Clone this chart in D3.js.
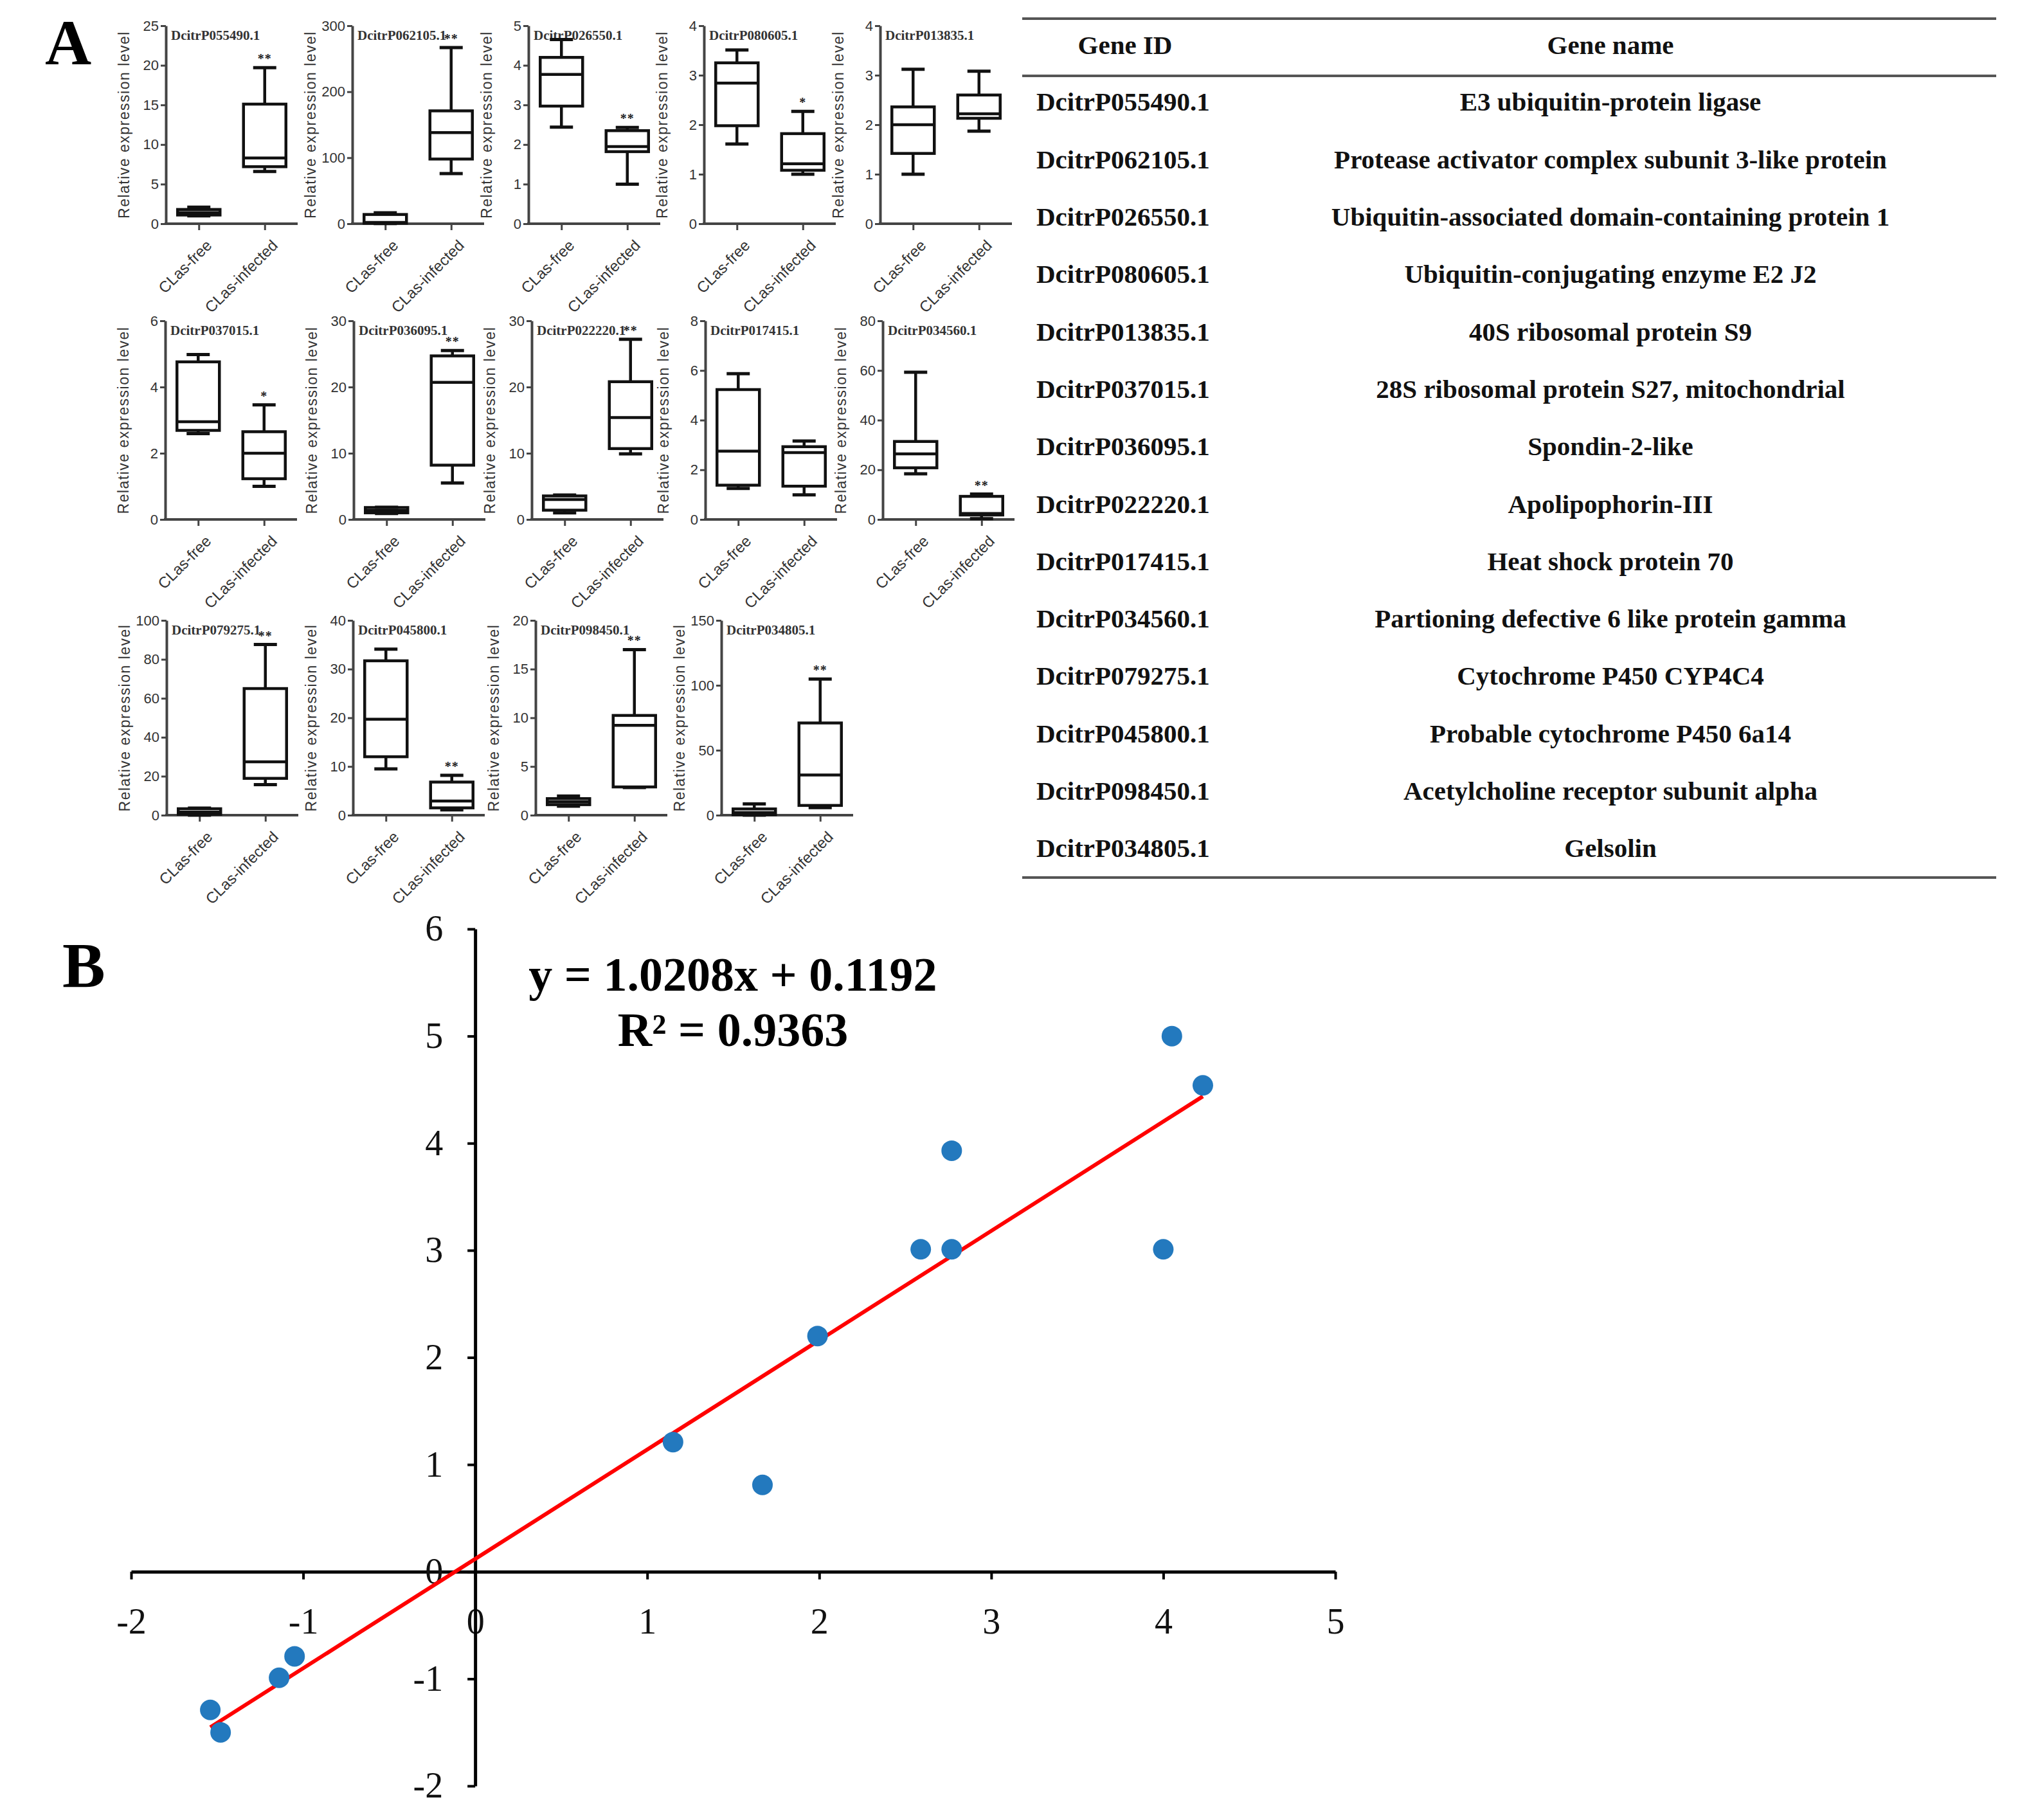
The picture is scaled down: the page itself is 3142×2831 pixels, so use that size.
<!DOCTYPE html>
<html>
<head>
<meta charset="utf-8">
<script src="https://cdn.jsdelivr.net/npm/d3@7"></script>
<style>
  html, body { margin: 0; padding: 0; background: #fff; }
  svg { display: block; }
</style>
</head>
<body>
<div id="fig"></div>
<script>
// ---- data ----
var geneIds = ['DcitrP055490.1', 'DcitrP062105.1', 'DcitrP026550.1', 'DcitrP080605.1', 'DcitrP013835.1',
  'DcitrP037015.1', 'DcitrP036095.1', 'DcitrP022220.1', 'DcitrP017415.1', 'DcitrP034560.1',
  'DcitrP079275.1', 'DcitrP045800.1', 'DcitrP098450.1', 'DcitrP034805.1'];
var geneNames = ['E3 ubiquitin-protein ligase', 'Protease activator complex subunit 3-like protein',
  'Ubiquitin-associated domain-containing protein 1', 'Ubiquitin-conjugating enzyme E2 J2',
  '40S ribosomal protein S9', '28S ribosomal protein S27, mitochondrial', 'Spondin-2-like',
  'Apolipophorin-III', 'Heat shock protein 70', 'Partioning defective 6 like protein gamma',
  'Cytochrome P450 CYP4C4', 'Probable cytochrome P450 6a14', 'Acetylcholine receptor subunit alpha', 'Gelsolin'];
var groups = ['CLas-free', 'CLas-infected'];
// [min, q1, median, q3, max]
var freeStats = [[1.0, 1.1, 1.4, 1.8, 2.1], [0.3, 0.8, 2, 14, 16.5], [2.44, 2.97, 3.77, 4.2, 4.65],
  [1.61, 1.98, 2.84, 3.25, 3.51], [1.0, 1.42, 2.0, 2.36, 3.12], [2.59, 2.69, 2.95, 4.76, 4.98],
  [0.9, 1.0, 1.35, 1.8, 1.84], [1.0, 1.4, 3.0, 3.55, 3.7], [1.25, 1.38, 2.75, 5.23, 5.87],
  [18.4, 20.8, 26.4, 31.4, 59.3], [0, 0.5, 1.6, 3.3, 3.6], [9.5, 12.0, 19.7, 31.7, 34.1],
  [0.93, 1.08, 1.37, 1.7, 1.96], [0, 0.3, 2, 4.8, 8.7]];
var infectedStats = [[6.6, 7.2, 8.3, 15.1, 19.7], [76, 98, 138, 171, 267], [1.0, 1.82, 1.95, 2.35, 2.43],
  [1.0, 1.08, 1.21, 1.82, 2.27], [1.87, 2.13, 2.22, 2.6, 3.08], [1.0, 1.23, 2.0, 2.65, 3.46],
  [5.5, 8.2, 20.7, 24.7, 25.5], [9.9, 10.7, 15.4, 20.8, 27.2], [0.99, 1.34, 2.69, 2.93, 3.16],
  [0.3, 1.8, 2.4, 9.3, 10.2], [15.7, 18.9, 27.4, 65, 87.6], [1.1, 1.5, 2.9, 6.8, 8.2],
  [2.84, 2.9, 9.23, 10.24, 17.0], [5.8, 7.5, 31, 71, 104.8]];
var yMaxes = [25, 300, 5, 4, 4, 6, 30, 30, 8, 80, 100, 40, 20, 150];
var yStep = [5, 100, 1, 1, 1, 2, 10, 10, 2, 20, 20, 10, 5, 50];
var signif = ['**', '**', '**', '*', '', '*', '**', '**', '', '**', '**', '**', '**', '**'];

var scatterX = [-1.54, -1.48, -1.14, -1.05, 1.15, 1.67, 1.99, 2.59, 2.77, 2.77, 4.0, 4.05, 4.23];
var scatterY = [-1.29, -1.50, -0.99, -0.79, 1.21, 0.81, 2.2, 3.01, 3.01, 3.93, 3.01, 5.0, 4.54];
var fitSlope = 1.0208;
var fitIntercept = 0.1192;
var fitR2 = 0.9363;
var scatterXTicks = [-2, -1, 0, 1, 2, 3, 4, 5];
var scatterYTicks = [-2, -1, 0, 1, 2, 3, 4, 5, 6];

// ---- layout ----
var W = 3142, H = 2831;
var serif = '"Liberation Serif", "Times New Roman", serif';
var sans = '"Liberation Sans", Arial, sans-serif';
var rowAxisX = [[258, 548, 822, 1095, 1369], [257, 550, 827, 1097, 1373], [259, 549, 833, 1122]];
var rowY0 = [348, 808, 1268];
var rowTop = [40, 499, 965];

var svg = d3.select('#fig').append('svg').attr('width', W).attr('height', H);
svg.append('rect').attr('width', W).attr('height', H).attr('fill', '#fff');

svg.append('text').attr('x', 70).attr('y', 100).attr('font-family', serif).attr('font-weight', 'bold')
  .attr('font-size', 100).text('A');
svg.append('text').attr('x', 97).attr('y', 1535).attr('font-family', serif).attr('font-weight', 'bold')
  .attr('font-size', 100).text('B');

var drawBoxPlot = function(i, ax, y0, top) {
  var g, x, y, yAxis, xAxis, boxes, bw = 66, cw = 36;
  g = svg.append('g').attr('class', 'boxplot');
  x = d3.scalePoint().domain(groups).range([ax, ax + 205]).padding(0.5);
  y = d3.scaleLinear().domain([0, yMaxes[i]]).range([y0, top]);

  yAxis = g.append('g').attr('transform', 'translate(' + ax + ',0)')
    .call(d3.axisLeft(y).tickValues(d3.range(0, yMaxes[i] + yStep[i] / 2, yStep[i]))
      .tickSize(8).tickSizeOuter(0).tickPadding(3).tickFormat(d3.format('d')));
  xAxis = g.append('g').attr('transform', 'translate(0,' + y0 + ')')
    .call(d3.axisBottom(x).tickSize(10).tickSizeOuter(0).tickPadding(6));
  [yAxis, xAxis].forEach(function(a) {
    a.select('.domain').attr('stroke', '#444').attr('stroke-width', 4);
    a.selectAll('.tick line').attr('stroke', '#444').attr('stroke-width', 3);
    a.selectAll('text').attr('font-family', sans).attr('font-size', 22).attr('fill', '#333');
  });
  xAxis.select('.domain').attr('d', 'M' + (ax - 2) + ',0H' + (ax + 205));
  xAxis.selectAll('.tick text').attr('text-anchor', 'end').attr('dy', '0.35em')
    .attr('font-size', 24)
    .attr('transform', 'translate(4,18) rotate(-45)');

  g.append('text').attr('transform', 'translate(' + (ax - 57) + ',' + ((y0 + top) / 2) + ') rotate(-90)')
    .attr('text-anchor', 'middle').attr('font-family', sans).attr('font-size', 23)
    .attr('letter-spacing', 1.5).attr('fill', '#333').text('Relative expression level');
  g.append('text').attr('x', ax + 8).attr('y', top + 22).attr('font-family', serif)
    .attr('font-weight', 'bold').attr('font-size', 21).attr('fill', '#333').text(geneIds[i]);

  boxes = g.selectAll('.box').data([freeStats[i], infectedStats[i]]).enter().append('g')
    .attr('class', 'box').attr('stroke', '#111').attr('stroke-width', 4.5).attr('fill', 'none');
  boxes.append('line').attr('x1', function(d, k) { return x(groups[k]); })
    .attr('x2', function(d, k) { return x(groups[k]); })
    .attr('y1', function(d) { return y(d[4]); }).attr('y2', function(d) { return y(d[0]); });
  boxes.append('rect').attr('x', function(d, k) { return x(groups[k]) - bw / 2; }).attr('width', bw)
    .attr('y', function(d) { return y(d[3]); })
    .attr('height', function(d) { return y(d[1]) - y(d[3]); }).attr('fill', '#fff');
  boxes.append('line').attr('x1', function(d, k) { return x(groups[k]) - bw / 2; })
    .attr('x2', function(d, k) { return x(groups[k]) + bw / 2; })
    .attr('y1', function(d) { return y(d[2]); }).attr('y2', function(d) { return y(d[2]); });
  [0, 4].forEach(function(s) {
    boxes.append('line').attr('x1', function(d, k) { return x(groups[k]) - cw / 2; })
      .attr('x2', function(d, k) { return x(groups[k]) + cw / 2; })
      .attr('y1', function(d) { return y(d[s]); }).attr('y2', function(d) { return y(d[s]); })
      .attr('stroke-width', 5);
  });
  if (signif[i]) {
    g.append('text').attr('x', x(groups[1])).attr('y', y(infectedStats[i][4]) - 7)
      .attr('text-anchor', 'middle').attr('font-family', serif).attr('font-weight', 'bold')
      .attr('font-size', 20).attr('letter-spacing', 1).attr('fill', '#222').text(signif[i]);
  }
};

var idx = 0;
rowAxisX.forEach(function(row, r) {
  row.forEach(function(ax) {
    drawBoxPlot(idx, ax, rowY0[r], rowTop[r]);
    idx++;
  });
});

// ---- table ----
var table = svg.append('g').attr('class', 'gene-table').attr('font-family', serif)
  .attr('font-weight', 'bold').attr('font-size', 41).attr('fill', '#111');
[29, 118, 1365].forEach(function(ly) {
  table.append('line').attr('x1', 1590).attr('x2', 3105).attr('y1', ly).attr('y2', ly)
    .attr('stroke', '#555').attr('stroke-width', 4);
});
table.append('text').attr('x', 1750).attr('y', 70).attr('dy', '0.35em').attr('text-anchor', 'middle').text('Gene ID');
table.append('text').attr('x', 2505).attr('y', 70).attr('dy', '0.35em').attr('text-anchor', 'middle').text('Gene name');
var rowY = d3.scalePoint().domain(geneIds).range([158, 1319]);
table.selectAll('.gid').data(geneIds).enter().append('text').attr('class', 'gid')
  .attr('x', 1612).attr('y', function(d) { return rowY(d); }).attr('dy', '0.35em').text(function(d) { return d; });
table.selectAll('.gname').data(geneNames).enter().append('text').attr('class', 'gname')
  .attr('x', 2505).attr('y', function(d, k) { return rowY(geneIds[k]); }).attr('dy', '0.35em')
  .attr('text-anchor', 'middle').text(function(d) { return d; });

// ---- scatter ----
var sx = d3.scaleLinear().domain([-2, 5]).range([204, 2077]);
var sy = d3.scaleLinear().domain([-2, 6]).range([2778, 1445]);
var plain = function(d) { return String(d); };
var sc = svg.append('g').attr('class', 'scatter');
var sxAxis = sc.append('g').attr('transform', 'translate(0,' + sy(0) + ')')
  .call(d3.axisBottom(sx).tickValues(scatterXTicks).tickFormat(plain).tickSize(12).tickSizeOuter(0).tickPadding(44));
var syAxis = sc.append('g').attr('transform', 'translate(' + sx(0) + ',0)')
  .call(d3.axisLeft(sy).tickValues(scatterYTicks).tickFormat(plain).tickSize(12).tickSizeOuter(0).tickPadding(38));
[sxAxis, syAxis].forEach(function(a) {
  a.select('.domain').attr('stroke', '#000').attr('stroke-width', 5);
  a.selectAll('.tick line').attr('stroke', '#000').attr('stroke-width', 4);
  a.selectAll('text').attr('font-family', serif).attr('font-size', 56).attr('fill', '#111');
});

var xr = d3.extent(scatterX);
sc.append('line').attr('x1', sx(xr[0])).attr('y1', sy(fitSlope * xr[0] + fitIntercept))
  .attr('x2', sx(xr[1])).attr('y2', sy(fitSlope * xr[1] + fitIntercept))
  .attr('stroke', '#ff0000').attr('stroke-width', 6);
sc.selectAll('.pt').data(scatterX).enter().append('circle').attr('class', 'pt')
  .attr('cx', function(d) { return sx(d); }).attr('cy', function(d, k) { return sy(scatterY[k]); })
  .attr('r', 16).attr('fill', '#2379be');

sc.append('text').attr('x', 1140).attr('y', 1515).attr('dy', '0.35em').attr('text-anchor', 'middle')
  .attr('font-family', serif).attr('font-weight', 'bold').attr('font-size', 74)
  .text('y = ' + fitSlope + 'x + ' + fitIntercept);
sc.append('text').attr('x', 1140).attr('y', 1601).attr('dy', '0.35em').attr('text-anchor', 'middle')
  .attr('font-family', serif).attr('font-weight', 'bold').attr('font-size', 74)
  .text('R\u00b2 = ' + fitR2);
</script>
</body>
</html>
